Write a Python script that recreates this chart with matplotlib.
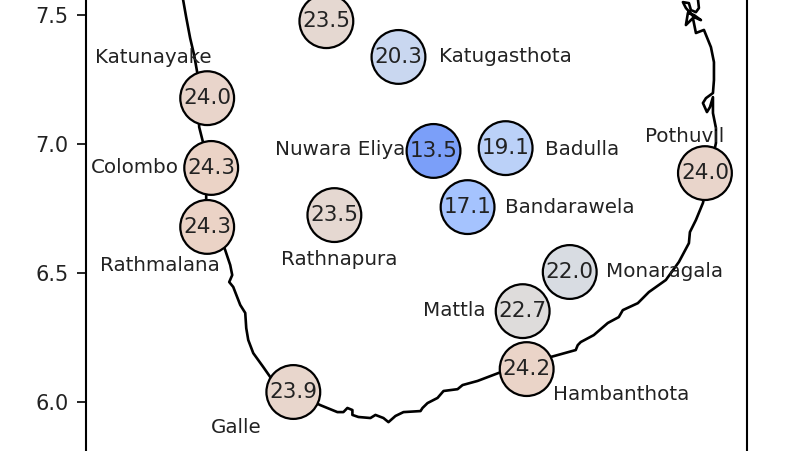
import matplotlib

matplotlib.use("Agg")
import matplotlib.pyplot as plt

# coastline, lon / lat
coast_lon = [79.744, 79.748, 79.760, 79.776, 79.792, 79.804, 79.812, 79.828, 79.840, 79.840, 79.916, 79.936,
             79.944, 79.932, 79.948, 79.976, 79.996, 80.000, 80.008, 80.028, 80.068, 80.096, 80.188, 80.296,
             80.364, 80.388, 80.404, 80.424, 80.424, 80.448, 80.496, 80.516, 80.548, 80.568, 80.596, 80.628,
             80.696, 80.704, 80.724, 80.764, 80.788, 80.844, 80.864, 80.924, 81.008, 81.216, 81.316, 81.324,
             81.336, 81.388, 81.444, 81.488, 81.504, 81.564, 81.608, 81.676, 81.728, 81.768, 81.772, 81.796,
             81.824, 81.876, 81.876, 81.864, 81.864, 81.852, 81.840, 81.824, 81.836, 81.864, 81.868, 81.868,
             81.856, 81.828, 81.796, 81.784, 81.756, 81.764, 81.788, 81.816, 81.788, 81.756, 81.744, 81.768,
             81.776, 81.796, 81.808, 81.800]
coast_lat = [7.598, 7.559, 7.493, 7.411, 7.345, 7.279, 7.066, 7.004, 6.899, 6.782, 6.588, 6.530,
             6.491, 6.464, 6.445, 6.375, 6.344, 6.285, 6.239, 6.188, 6.134, 6.095, 6.037, 5.986,
             5.959, 5.959, 5.975, 5.967, 5.948, 5.940, 5.936, 5.948, 5.936, 5.920, 5.944, 5.959,
             5.963, 5.975, 5.994, 6.014, 6.041, 6.048, 6.064, 6.080, 6.111, 6.173, 6.200, 6.219,
             6.231, 6.258, 6.305, 6.328, 6.355, 6.382, 6.425, 6.472, 6.542, 6.615, 6.658, 6.705,
             6.771, 7.004, 7.062, 7.120, 7.182, 7.143, 7.124, 7.159, 7.178, 7.198, 7.248, 7.318,
             7.376, 7.443, 7.431, 7.489, 7.462, 7.509, 7.501, 7.481, 7.493, 7.528, 7.551, 7.547,
             7.520, 7.512, 7.528, 7.598]

# stations
station_lon = [80.320, 80.608, 79.844, 79.860, 79.844, 80.748, 81.036, 80.884, 80.352, 81.832, 81.292, 81.104,
               81.120, 80.188]
station_lat = [7.477, 7.338, 7.178, 6.907, 6.678, 6.973, 6.984, 6.755, 6.724, 6.887, 6.503, 6.351, 6.126, 6.037]
station_temp = [23.5, 20.3, 24.0, 24.3, 24.3, 13.5, 19.1, 17.1, 23.5, 24.0, 22.0, 22.7, 24.2, 23.9]

# station names
names = ["Katunayake", "Katugasthota", "Nuwara Eliya", "Colombo", "Badulla", "Pothuvil", "Bandarawela",
         "Rathnapura", "Rathmalana", "Monaragala", "Mattla", "Hambanthota", "Galle"]
name_lon = [79.628, 81.036, 80.376, 79.556, 81.340, 81.752, 81.292, 80.372, 79.656, 81.672, 80.832, 81.496, 79.960]
name_lat = [7.334, 7.338, 6.977, 6.907, 6.980, 7.031, 6.755, 6.553, 6.530, 6.503, 6.355, 6.029, 5.900]

y_ticks = [6.0, 6.5, 7.0, 7.5]

fig = plt.figure(figsize=(8, 4.51), dpi=100)
# the crop cuts the map at top and bottom, so the axes run past the figure
ax = fig.add_axes([86 / 800, -9 / 451, 661 / 800, 470 / 451])
ax.set_xlim(79.36, 82.0)
ax.set_ylim(5.773, 7.598)

ax.plot(coast_lon, coast_lat, color="black", linewidth=1.9, zorder=1)
ax.scatter(station_lon, station_lat, c=station_temp, cmap="coolwarm", vmin=7.5, vmax=37.5, s=1500,
           edgecolors="black", linewidths=1.6, zorder=2)

for lon, lat, temp in zip(station_lon, station_lat, station_temp):
    ax.text(lon, lat, f"{temp:.1f}", fontsize=15.5, ha="center", va="center", color="#222222", zorder=3)
for lon, lat, name in zip(name_lon, name_lat, names):
    ax.text(lon, lat, name, fontsize=14.3, ha="center", va="center", color="#222222", zorder=3)

ax.set_xticks([])
ax.set_yticks(y_ticks)
ax.set_yticklabels([f"{t:.1f}" for t in y_ticks])
ax.tick_params(axis="y", labelsize=15, length=6.5, width=1.2, pad=6, labelcolor="#222222")
for spine in ax.spines.values():
    spine.set_linewidth(1.5)

fig.savefig("out.png", dpi=100)
